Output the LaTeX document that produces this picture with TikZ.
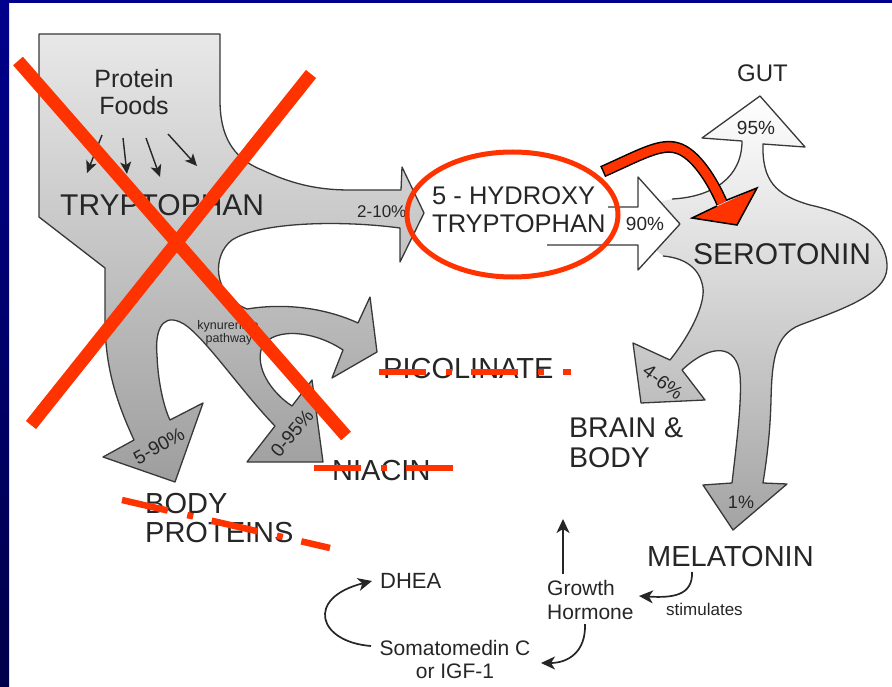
\documentclass[tikz,border=0pt]{standalone}
\usepackage{fontspec}
\setmainfont{Liberation Sans}
\usetikzlibrary{arrows.meta}
\definecolor{redx}{HTML}{FF3300}
\definecolor{ink}{HTML}{262626}
\definecolor{edge}{HTML}{383838}
\definecolor{navytop}{HTML}{00008C}
\definecolor{navybot}{HTML}{00004A}
\begin{document}
\begin{tikzpicture}[x=1pt,y=-1pt,
  lbl/.style={text=ink, inner sep=0pt},
  bigtxt/.style={lbl, font=\fontsize{29}{33}\selectfont},
  midtxt/.style={lbl, font=\fontsize{21}{24}\selectfont},
  pct/.style={lbl, font=\fontsize{19}{22}\selectfont},
  outline/.style={draw=edge, line width=1.3pt, line join=round},
  blackarrow/.style={draw=ink, line width=1.7pt, -{Stealth[length=14pt,width=13pt,inset=4pt]}},
  foodarrow/.style={draw=ink, line width=1.4pt, -{Stealth[length=12pt,width=11pt,inset=3pt]}},
  strike/.style={draw=redx, line width=6.5pt, dash pattern=on 47pt off 20pt on 6pt off 19pt},
  crossline/.style={draw=redx, line width=13pt}]
\useasboundingbox (0,0) rectangle (892,687);
\fill[white] (0,0) rectangle (892,687);
\shade[top color=navytop, bottom color=navybot] (0,0) rectangle (9,687);
\fill[navytop] (0,0) rectangle (892,3.5);

% ---------- tryptophan shape ----------
\shadedraw[top color=black!9, bottom color=black!38, outline]
  (39,34) -- (220,34) -- (220,100)
  .. controls (220,135) and (232,158) .. (262,170)
  .. controls (290,183) and (315,190) .. (350,190) -- (401,190)
  -- (402,167) -- (424,213) -- (400,262) -- (400,228)
  .. controls (340,220) and (260,222) .. (232,240)
  .. controls (212,255) and (212,295) .. (247,309)
  .. controls (290,302) and (330,310) .. (358,323)
  -- (370,297) -- (377,352) -- (332,378) -- (343,350)
  .. controls (310,328) and (268,328) .. (261,350)
  .. controls (256,372) and (275,395) .. (292,406)
  -- (312,380) -- (323,462) -- (247,462) -- (275,426)
  .. controls (240,390) and (200,330) .. (180,322)
  .. controls (160,313) and (155,335) .. (157,355)
  .. controls (158,385) and (165,410) .. (170,420)
  -- (203,403) -- (175,482) -- (103,457) -- (134,440)
  .. controls (118,405) and (105,370) .. (105,320)
  -- (105,268) -- (39,217) -- cycle;

% ---------- serotonin shape ----------
\shade[top color=white, bottom color=black!36]
  (672,199) .. controls (712,197) and (742,178) .. (742,141)
  -- (702,138) -- (760,96) -- (805,147) -- (763,144)
  .. controls (762,180) and (775,195) .. (810,205)
  .. controls (855,215) and (888,235) .. (887,268)
  .. controls (886,295) and (840,310) .. (800,325)
  .. controls (775,335) and (772,360) .. (771,400)
  .. controls (770,440) and (765,470) .. (763,483)
  -- (787,484) -- (733,530) -- (703,485) -- (732,483)
  .. controls (737,440) and (742,400) .. (740,375)
  .. controls (737,345) and (712,342) .. (682,370)
  -- (705,400) -- (641,403) -- (633,343) -- (670,360)
  .. controls (690,335) and (705,305) .. (703,288)
  .. controls (700,268) and (685,258) .. (663,256)
  -- (645,240) -- (645,205) -- cycle;
\draw[outline]
  (672,199) .. controls (712,197) and (742,178) .. (742,141)
  -- (702,138) -- (760,96) -- (805,147) -- (763,144)
  .. controls (762,180) and (775,195) .. (810,205)
  .. controls (855,215) and (888,235) .. (887,268)
  .. controls (886,295) and (840,310) .. (800,325)
  .. controls (775,335) and (772,360) .. (771,400)
  .. controls (770,440) and (765,470) .. (763,483)
  -- (787,484) -- (733,530) -- (703,485) -- (732,483)
  .. controls (737,440) and (742,400) .. (740,375)
  .. controls (737,345) and (712,342) .. (682,370)
  -- (705,400) -- (641,403) -- (633,343) -- (670,360)
  .. controls (690,335) and (705,305) .. (703,288)
  .. controls (700,268) and (685,258) .. (663,256);

% ---------- 90% white arrow ----------
\fill[white] (547,207) -- (638,207) -- (638,177) -- (680,224) -- (638,270) -- (638,245) -- (547,245) -- cycle;
\draw[outline] (608,207) -- (638,207) -- (638,177) -- (680,224) -- (638,270) -- (638,245) -- (547,245);

% ---------- labels ----------
\node[lbl, anchor=base, font=\fontsize{25}{28}\selectfont] (pf1) at (134,88) {Protein};
\node[lbl, anchor=base, font=\fontsize{25}{28}\selectfont] (pf2) at (134,115) {Foods};
\node[lbl, anchor=base west, font=\fontsize{30}{34}\selectfont] (trp) at (60,216) {TRYPTOPHAN};
\node[lbl, anchor=base west, font=\fontsize{17}{20}\selectfont] (p210) at (357,218) {2-10\%};
\node[lbl, anchor=base, font=\fontsize{12.5}{14}\selectfont] (kyn1) at (228,329) {kynurenine};
\node[lbl, anchor=base, font=\fontsize{12.5}{14}\selectfont] (kyn2) at (229,342) {pathway};
\node[pct, rotate=29] (p590) at (159,446) {5-90\%};
\node[pct, rotate=50] (p095) at (292,433) {0-95\%};
\node[lbl, anchor=base west, font=\fontsize{25.5}{29}\selectfont] (htp1) at (432,205) {5 - HYDROXY};
\node[lbl, anchor=base west, font=\fontsize{25.5}{29}\selectfont] (htp2) at (432,233) {TRYPTOPHAN};
\node[pct] (p90) at (645,224) {90\%};
\node[lbl, anchor=base west, font=\fontsize{24}{27}\selectfont] (gut) at (737,82) {GUT};
\node[pct] (p95) at (756,128) {95\%};
\node[lbl, anchor=base west, font=\fontsize{30}{34}\selectfont] (ser) at (693,265) {SEROTONIN};
\node[pct, rotate=-37] (p46) at (663,382) {4-6\%};
\node[lbl, font=\fontsize{18}{21}\selectfont] (p1) at (741,502) {1\%};
\node[bigtxt, anchor=base west] (pic) at (383,378) {PICOLINATE};
\node[bigtxt, anchor=base west] (nia) at (332,480) {NIACIN};
\node[bigtxt, anchor=base west] (bp1) at (145,513) {BODY};
\node[bigtxt, anchor=base west] (bp2) at (145,542) {PROTEINS};
\node[lbl, anchor=base west, font=\fontsize{28.5}{32}\selectfont] (bb1) at (569,437) {BRAIN \&};
\node[lbl, anchor=base west, font=\fontsize{28.5}{32}\selectfont] (bb2) at (569,467) {BODY};
\node[bigtxt, anchor=base west] (mel) at (647,566) {MELATONIN};
\node[midtxt, anchor=base west] (gh1) at (547,595) {Growth};
\node[midtxt, anchor=base west] (gh2) at (547,619) {Hormone};
\node[lbl, anchor=base west, font=\fontsize{17}{20}\selectfont] (stim) at (666,615) {stimulates};
\node[lbl, anchor=base west, font=\fontsize{22}{25}\selectfont] (dhea) at (380,588) {DHEA};
\node[midtxt, anchor=base] (som1) at (455,655) {Somatomedin C};
\node[midtxt, anchor=base] (som2) at (455,678) {or IGF-1};

% ---------- food arrows ----------
\coordinate (fa1s) at (102,135); \coordinate (fa1e) at (87,173);
\coordinate (fa2s) at (123,138); \coordinate (fa2e) at (127,174);
\coordinate (fa3s) at (146,138); \coordinate (fa3e) at (160,177);
\coordinate (fa4s) at (168,134); \coordinate (fa4e) at (197,166);
\draw[foodarrow] (fa1s) -- (fa1e);
\draw[foodarrow] (fa2s) -- (fa2e);
\draw[foodarrow] (fa3s) -- (fa3e);
\draw[foodarrow] (fa4s) -- (fa4e);

% ---------- hormone connectors ----------
\coordinate (ghtop) at (563,574);
\coordinate (ghup) at (563,519);
\coordinate (melout) at (692,572);
\coordinate (ghin) at (639,596);
\coordinate (ghout) at (585,624);
\coordinate (somin) at (541,663);
\coordinate (somout) at (371,646);
\coordinate (dhin) at (372,581);
\draw[blackarrow, line width=2pt] (ghtop) -- (ghup);
\draw[blackarrow] (melout) .. controls (693,596) and (672,598) .. (ghin);
\draw[blackarrow] (ghout) .. controls (586,652) and (568,663) .. (somin);
\draw[blackarrow] (somout) .. controls (318,642) and (305,598) .. (dhin);

% ---------- red marks ----------
\draw[crossline] (18,61) -- (346,436);
\draw[crossline] (311,74) -- (31,425);
\draw[redx, line width=5pt] (512.5,214.5) ellipse [x radius=105.5, y radius=62.5];
\draw[strike] (379,372) -- (571,372);
\draw[strike] (314,468) -- (454,468);
\draw[strike] (122,500) -- (330,548);
\draw[black, line width=12pt, shorten <=-1.5pt] (604,171) .. controls (640,155) and (660,143) .. (677,148) .. controls (695,153) and (712,180) .. (722,203);
\draw[redx, line width=9pt] (604,171) .. controls (640,155) and (660,143) .. (677,148) .. controls (695,153) and (712,180) .. (722,203);
\fill[redx] (692,218) -- (737,225) -- (757,188) -- cycle;
\draw[black, line width=1.5pt, line join=miter] (717,206) -- (692,218) -- (737,225) -- (757,188) -- (727,200);
\end{tikzpicture}
\end{document}
